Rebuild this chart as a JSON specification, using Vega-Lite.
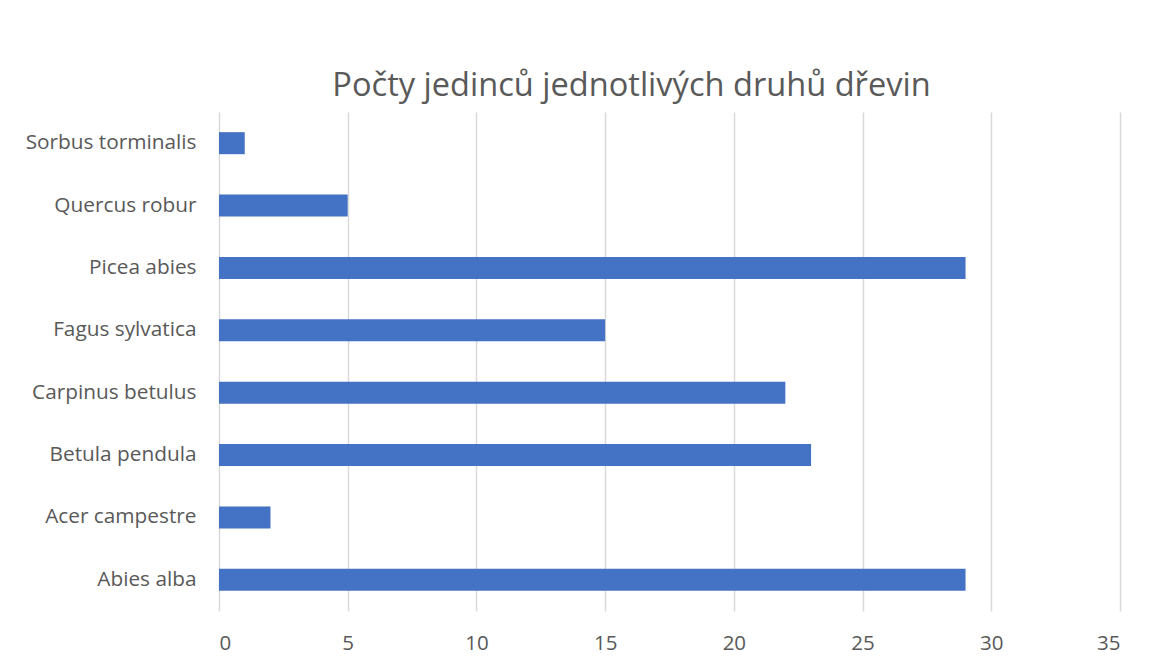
{
  "$schema": "https://vega.github.io/schema/vega-lite/v6.json",
  "width": 901,
  "height": 499,
  "autosize": "none",
  "padding": {"left": 219, "top": 112, "right": 39, "bottom": 55},
  "background": "white",
  "title": {
    "text": "Počty jedinců jednotlivých druhů dřevin",
    "anchor": "middle",
    "dx": -38,
    "offset": 9,
    "fontSize": 32.6,
    "font": "Open Sans",
    "fontWeight": "normal",
    "color": "#595959"
  },
  "data": {
    "values": [
      {"druh": "Sorbus torminalis", "pocet": 1},
      {"druh": "Quercus robur", "pocet": 5},
      {"druh": "Picea abies", "pocet": 29},
      {"druh": "Fagus sylvatica", "pocet": 15},
      {"druh": "Carpinus betulus", "pocet": 22},
      {"druh": "Betula pendula", "pocet": 23},
      {"druh": "Acer campestre", "pocet": 2},
      {"druh": "Abies alba", "pocet": 29}
    ]
  },
  "mark": {"type": "bar", "color": "#4472C4"},
  "encoding": {
    "y": {
      "field": "druh",
      "type": "nominal",
      "sort": ["Sorbus torminalis", "Quercus robur", "Picea abies", "Fagus sylvatica", "Carpinus betulus", "Betula pendula", "Acer campestre", "Abies alba"],
      "scale": {"paddingInner": 0.647, "paddingOuter": 0.3235},
      "axis": {
        "title": null,
        "domain": false,
        "ticks": false,
        "labelPadding": 23,
        "labelFont": "Open Sans",
        "labelFontSize": 20.8,
        "labelColor": "#595959"
      }
    },
    "x": {
      "field": "pocet",
      "type": "quantitative",
      "scale": {"domain": [0, 35], "nice": false},
      "axis": {
        "title": null,
        "values": [0, 5, 10, 15, 20, 25, 30, 35],
        "domain": false,
        "ticks": false,
        "grid": true,
        "gridColor": "#d9d9d9",
        "gridWidth": 1.5,
        "labelPadding": 22,
        "labelFont": "Open Sans",
        "labelFontSize": 20.5,
        "labelColor": "#595959"
      }
    }
  },
  "config": {"view": {"stroke": null}}
}
